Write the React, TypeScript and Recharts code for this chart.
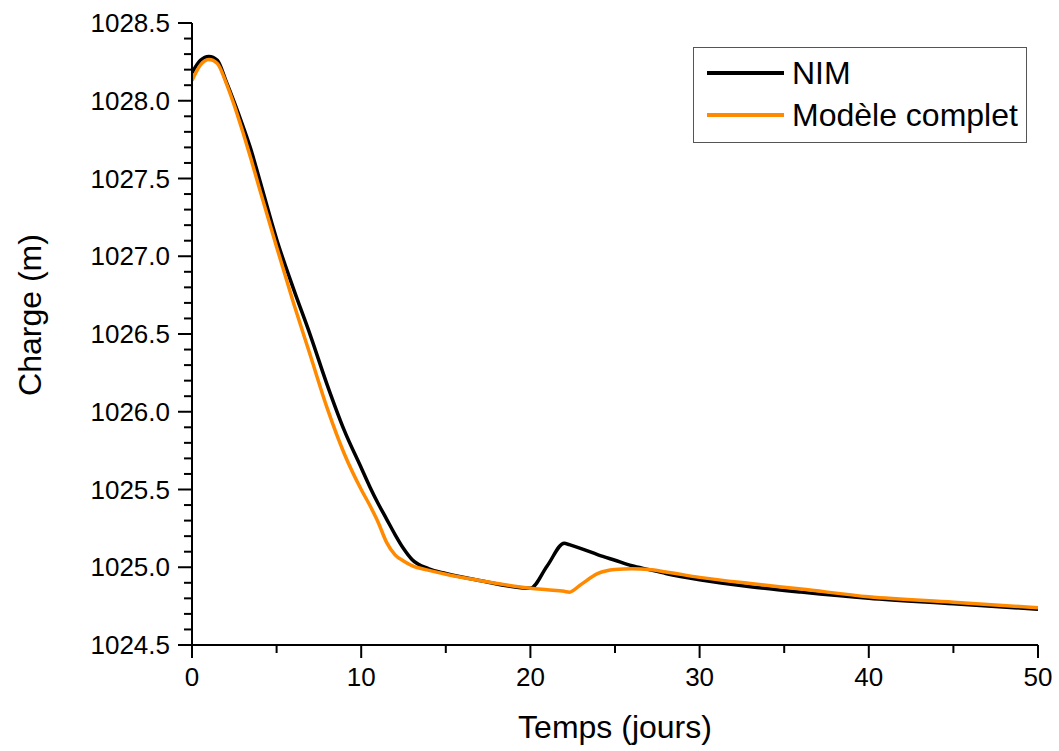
import { LineChart, Line, XAxis, YAxis, Legend, Label } from "recharts";

const temps = [
  0, 0.5, 1, 1.5, 2, 2.5, 3, 3.5, 4, 5, 6, 7, 8, 9, 10, 10.5, 11, 11.5, 12, 12.5,
  13, 14, 15, 17, 20, 21, 22, 22.3, 23, 24, 25, 26, 27, 28, 30, 33, 36, 40, 45, 50,
];

const nim = [
  1028.18, 1028.26, 1028.285, 1028.26, 1028.13, 1027.99, 1027.84, 1027.68, 1027.49, 1027.11,
  1026.79, 1026.49, 1026.17, 1025.88, 1025.64, 1025.52, 1025.41, 1025.31, 1025.21, 1025.12,
  1025.05, 1024.99, 1024.96, 1024.915, 1024.865, 1025.01, 1025.155, 1025.145, 1025.12, 1025.08,
  1025.045, 1025.01, 1024.985, 1024.96, 1024.92, 1024.875, 1024.84, 1024.8, 1024.765, 1024.73,
];

const complet = [
  1028.13, 1028.23, 1028.265, 1028.24, 1028.12, 1027.97, 1027.8, 1027.62, 1027.43, 1027.06,
  1026.7, 1026.36, 1026.02, 1025.73, 1025.5, 1025.4, 1025.29, 1025.16, 1025.08, 1025.04,
  1025.01, 1024.98, 1024.955, 1024.915, 1024.865, 1024.855, 1024.845, 1024.84, 1024.89, 1024.96,
  1024.985, 1024.99, 1024.985, 1024.97, 1024.935, 1024.895, 1024.86, 1024.81, 1024.775, 1024.74,
];

const xMajor = [0, 10, 20, 30, 40, 50];
const xTicks = [0, 5, 10, 15, 20, 25, 30, 35, 40, 45, 50];
const yMajor = [1024.5, 1025, 1025.5, 1026, 1026.5, 1027, 1027.5, 1028, 1028.5];
const yTicks = Array.from({ length: 41 }, (_, i) => +(1024.5 + i * 0.1).toFixed(1));

const data = temps.map((t, i) => ({ t, nim: nim[i], complet: complet[i] }));

const FONT = "'Liberation Sans', Arial, Helvetica, sans-serif";
const ORANGE = "#ff8a00";

const X_TICK = 13, X_GAP = 10, Y_TICK = 14, Y_GAP = 8;

const legendItems = [
  { name: "NIM", color: "#000" },
  { name: "Modèle complet", color: ORANGE },
];

function LegendBox() {
  return (
    <div
      style={{
        border: "1.5px solid #555",
        background: "#fff",
        padding: "4px 8px 6px 13px",
        fontFamily: FONT,
        fontSize: 32,
        lineHeight: "42px",
        color: "#000",
        whiteSpace: "nowrap",
      }}
    >
      {legendItems.map((it) => (
        <div key={it.name} style={{ display: "flex", alignItems: "center" }}>
          <span style={{ display: "inline-block", width: 77, height: 4, background: it.color, marginRight: 8 }} />
          <span>{it.name}</span>
        </div>
      ))}
    </div>
  );
}

function XTick({ x, y, payload }: any) {
  const major = xMajor.includes(payload.value);
  const axisY = y - X_TICK - X_GAP;
  return (
    <g>
      <line x1={x} x2={x} y1={axisY} y2={axisY + (major ? X_TICK : 8)} stroke="#000" strokeWidth={2} />
      {major && (
        <text x={x} y={y} dy="0.71em" textAnchor="middle" fontSize={26} fontFamily={FONT} fill="#000">
          {payload.value}
        </text>
      )}
    </g>
  );
}

function YTick({ x, y, payload }: any) {
  const major = yMajor.includes(payload.value);
  const axisX = x + Y_TICK + Y_GAP;
  return (
    <g>
      <line x1={axisX - (major ? Y_TICK : 8)} x2={axisX} y1={y} y2={y} stroke="#000" strokeWidth={2} />
      {major && (
        <text x={x} y={y} dy="0.355em" textAnchor="end" fontSize={26} fontFamily={FONT} fill="#000">
          {payload.value.toFixed(1)}
        </text>
      )}
    </g>
  );
}

function XTitle({ viewBox }: any) {
  const { x, y, width } = viewBox;
  return (
    <text x={x + width / 2} y={y + 93} textAnchor="middle" fontSize={32} fontFamily={FONT} fill="#000">
      Temps (jours)
    </text>
  );
}

function YTitle({ viewBox }: any) {
  const { y, height } = viewBox;
  const cx = 41;
  const cy = y + height / 2 - 19;
  return (
    <text x={cx} y={cy} transform={`rotate(-90 ${cx} ${cy})`} textAnchor="middle" fontSize={32} fontFamily={FONT} fill="#000">
      Charge (m)
    </text>
  );
}

export default function App() {
  return (
    <div style={{ position: "absolute", left: 0, top: 0, width: 1059, height: 751, background: "#fff" }}>
      <LineChart width={1059} height={751} data={data} margin={{ top: 23, right: 21, bottom: 0, left: 0 }}>
        <XAxis
          dataKey="t"
          type="number"
          domain={[0, 50]}
          ticks={xTicks}
          interval={0}
          height={106}
          axisLine={{ stroke: "#000", strokeWidth: 2 }}
          tickLine={false}
          tickSize={X_TICK}
          tickMargin={X_GAP}
          tick={<XTick />}
          allowDataOverflow
        >
          <Label content={<XTitle />} />
        </XAxis>
        <YAxis
          type="number"
          domain={[1024.5, 1028.5]}
          ticks={yTicks}
          width={192}
          interval={0}
          axisLine={{ stroke: "#000", strokeWidth: 2 }}
          tickLine={false}
          tickSize={Y_TICK}
          tickMargin={Y_GAP}
          tick={<YTick />}
          allowDataOverflow
        >
          <Label content={<YTitle />} />
        </YAxis>
        <Legend
          content={<LegendBox />}
          layout="vertical"
          verticalAlign="middle"
          align="center"
          wrapperStyle={{ top: 47, left: 693, right: "auto", bottom: "auto", width: "auto" }}
        />
        <Line
          dataKey="nim"
          name="NIM"
          type="monotone"
          stroke="#000"
          strokeWidth={3.5}
          dot={false}
          isAnimationActive={false}
        />
        <Line
          dataKey="complet"
          name="Modèle complet"
          type="monotone"
          stroke={ORANGE}
          strokeWidth={3.5}
          dot={false}
          isAnimationActive={false}
        />
      </LineChart>
    </div>
  );
}
